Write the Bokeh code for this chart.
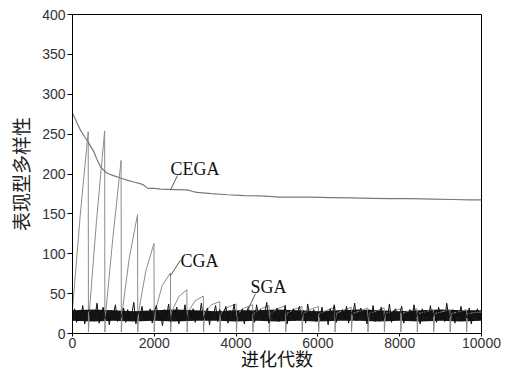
import numpy as np
from bokeh.plotting import figure
from bokeh.models import Label, Range1d, FixedTicker
from bokeh.embed import file_html
from bokeh.resources import INLINE

# ---- data ----
x_ticks = [0, 2000, 4000, 6000, 8000, 10000]
y_ticks = [0, 50, 100, 150, 200, 250, 300, 350, 400]

cega_gen = [0, 60, 120, 195, 290, 384, 450, 521, 600, 685, 760, 848, 1000, 1174, 1350,
            1499, 1650, 1743, 1842, 2000, 2152, 2500, 2804, 2950, 3048, 3400, 3782, 4200,
            4597, 5086, 5500, 5819, 6300, 6800, 7300, 7800, 8300, 8800, 9300, 9700, 10000]
cega_val = [276, 270, 263, 255, 247, 240, 234, 228, 218, 209, 205, 201, 198, 195, 192,
            190, 188, 186, 182, 182, 181, 180.5, 180, 178, 177, 175.5, 174, 173,
            172.5, 171, 171, 171, 170.5, 170, 169.5, 169, 169, 168.5, 168, 167.5, 167.5]

cga_drop = [384, 786, 1188, 1590, 1992, 2394, 2796, 3198, 3600, 4002, 4404, 4806, 5208,
            5610, 6012, 6414, 6816, 7218, 7620, 8022, 8424, 8826, 9228, 9630]
cga_peak = [253, 254, 217, 149, 113, 76, 55, 47, 40, 37, 36, 35, 35, 34, 34, 33, 33,
            32, 32, 31, 31, 30, 30, 30]
cga_mid = [150, 140, 120, 95, 78, 60, 46, 41, 36, 33, 32, 31, 31, 30, 30, 29, 29,
           28, 28, 28, 28, 27, 27, 27]
cga_start = [30, 28, 28, 28, 28, 28, 27, 27, 26, 26, 25, 25, 25, 25, 25, 25, 25,
             25, 25, 25, 25, 25, 25, 25]
cga_floor = 2
cga_end = 27

sga_val = [22,31,14,27,19,35,12,25,30,16,28,21,38,13,24,33,18,26,11,29,
           23,36,15,27,20,32,14,30,17,25,39,12,28,22,34,16,26,19,31,13,
           27,35,18,24,10,30,21,37,15,28,23,33,12,26,19,36,16,29,22,31,
           14,27,20,38,17,25,32,11,28,24,35,15,30,18,26,34,13,29,21,37,
           16,27,23,31,12,25,33,19,28,14,36,22,30,17,26,39,13,24,29,18,
           32,15,27,21,35,12,28,24,31,16,26,34,19,29,13,37,22,25,30,15,
           28,20,33,17,27,11,31,24,36,14,26,21,30,18,34,13,28,23,38,16,
           25,32,19,27,12,30,22,35,15,29,24,33,17,26,20,37,14,28,31,18,
           25,34,13,27,22,30,16,36,21,26,12,31,24,29,17,35,19,28,14,33,
           23,27,15,38,20,25,30,13,29,22,34,16,27,19,32,12,26,24,31,18,
           21]
band_lo = [16, 15, 16, 15, 16, 15, 16, 16, 15, 16, 15, 16, 15, 16, 16, 15, 16, 15, 16, 15, 16]
band_hi = [29, 30, 29, 28, 29, 30, 29, 28, 29, 29, 30, 29, 28, 29, 30, 29, 28, 29, 30, 29, 29]

# ---- build CGA sawtooth path ----
cx, cy = [], []
prev = 0
for d, pk, md, st in zip(cga_drop, cga_peak, cga_mid, cga_start):
    if prev > 0:
        cx.append(prev + 6); cy.append(cga_floor)
    cx.append(prev + 30 if prev > 0 else 0); cy.append(st)
    cx.append(prev + (d - prev) * 0.5); cy.append(md)
    cx.append(d); cy.append(pk)
    prev = d
cx += [prev + 6, prev + 30, 10000]
cy += [cga_floor, 25, cga_end]

sga_x = np.linspace(0, 10000, len(sga_val))
band_x = np.linspace(0, 10000, len(band_lo))

p = figure(width=509, height=373, output_backend="svg", toolbar_location=None,
           x_range=Range1d(0, 10000), y_range=Range1d(0, 400),
           min_border_left=72, min_border_right=28, min_border_top=14, min_border_bottom=39)
p.background_fill_color = "white"
p.border_fill_color = "white"
p.outline_line_color = "black"
p.outline_line_width = 1
p.xgrid.visible = False
p.ygrid.visible = False

p.varea(x=band_x, y1=band_lo, y2=band_hi, fill_color="#151515")
p.line(cx, cy, line_color="#8c8c8c", line_width=1)
p.line(sga_x, sga_val, line_color="#111111", line_width=1)
p.line(cega_gen, cega_val, line_color="#7a7a7a", line_width=1.2)

# annotations with leaders
p.line([2396, 2567], [180, 198], line_color="#555555", line_width=1)
p.line([2396, 2641], [72.5, 92], line_color="#555555", line_width=1)
p.line([4290, 4474], [30, 50], line_color="#555555", line_width=1)
for tx, ty, t in [(2396, 206, "CEGA"), (2641, 91, "CGA"), (4352, 58, "SGA")]:
    p.add_layout(Label(x=tx, y=ty, text=t, text_font="Liberation Serif",
                       text_font_size="18px", text_color="#111111",
                       text_baseline="alphabetic", text_align="left"))

for ax in (p.xaxis[0], p.yaxis[0]):
    ax.axis_line_color = "black"
    ax.major_tick_line_color = "black"
    ax.minor_tick_line_color = None
    ax.major_tick_in = 0
    ax.major_label_text_font = "Liberation Sans"
    ax.major_label_text_font_size = "14px"
    ax.major_label_text_color = "#333333"

p.yaxis.major_tick_out = 5
p.yaxis.major_label_standoff = 2
p.xaxis.major_tick_out = 3
p.xaxis.major_label_standoff = 1

p.xaxis.ticker = FixedTicker(ticks=x_ticks)
p.yaxis.ticker = FixedTicker(ticks=y_ticks)

p.xaxis.axis_label = "进化代数"
p.xaxis.axis_label_text_font = "Noto Sans CJK SC"
p.xaxis.axis_label_text_font_size = "18px"
p.xaxis.axis_label_text_font_style = "normal"
p.xaxis.axis_label_text_color = "#111111"
p.xaxis.axis_label_standoff = -6

p.yaxis.axis_label = "表现型多样性"
p.yaxis.axis_label_text_font = "Noto Sans CJK SC"
p.yaxis.axis_label_text_font_size = "19px"
p.yaxis.axis_label_text_font_style = "normal"
p.yaxis.axis_label_text_color = "#222222"
p.yaxis.axis_label_standoff = 5

open("out.html", "w").write(file_html(p, INLINE))
